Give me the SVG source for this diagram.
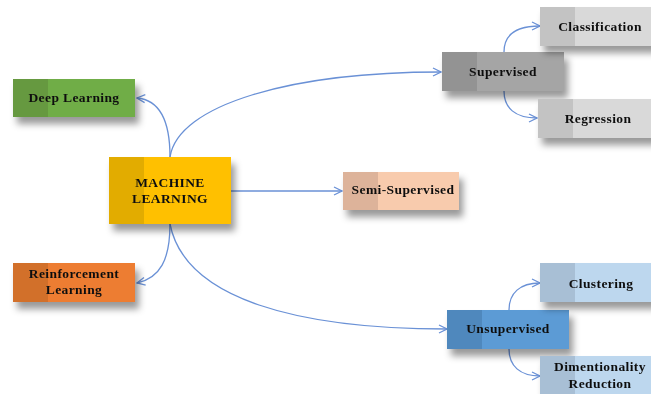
<svg xmlns="http://www.w3.org/2000/svg" width="651" height="394" viewBox="0 0 651 394">
<defs>
<filter id="sh" x="-20%" y="-30%" width="150%" height="180%">
<feDropShadow dx="4" dy="7" stdDeviation="3.5" flood-color="#000" flood-opacity="0.4"/>
</filter>
<marker id="ah" viewBox="0 0 10 10" refX="9" refY="5" markerWidth="10" markerHeight="10" markerUnits="userSpaceOnUse" orient="auto">
<path d="M1,1 L9,5 L1,9" fill="none" stroke="#6A91D6" stroke-width="1.3"/>
</marker>
<style>
.t{font-family:"Liberation Serif","Times New Roman",serif;font-weight:bold;font-size:13.5px;letter-spacing:0.4px;fill:#111;text-anchor:middle}
.c{fill:none;stroke:#6A91D6;stroke-width:1.3;marker-end:url(#ah)}
</style>
</defs>
<g id="connectors">
<path class="c" d="M170,157 C170,120 160,100 137,98"/>
<path class="c" d="M170,157 C178,105 290,72 441,72"/>
<path class="c" d="M231,191 L342,191"/>
<path class="c" d="M170,224 C170,260 160,278 137,283"/>
<path class="c" d="M170,224 C185,300 300,329 447,329"/>
<path class="c" d="M504,52 C504,35 515,26 540,26"/>
<path class="c" d="M504,91 C504,108 515,118 537,118"/>
<path class="c" d="M509,310 C509,293 520,283 540,283"/>
<path class="c" d="M509,349 C509,366 520,376 540,376"/>
</g>
<g id="deep-learning" filter="url(#sh)">
<rect x="13" y="79" width="122" height="38" fill="#70AD47"/>
<rect x="13" y="79" width="35" height="38" fill="#66993F"/>
<text class="t" x="74" y="102">Deep Learning</text>
</g>
<g id="machine-learning" filter="url(#sh)">
<rect x="109" y="157" width="122" height="67" fill="#FFC000"/>
<rect x="109" y="157" width="35" height="67" fill="#E2AC00"/>
<text class="t" x="170" y="187">MACHINE</text>
<text class="t" x="170" y="203">LEARNING</text>
</g>
<g id="reinforcement-learning" filter="url(#sh)">
<rect x="13" y="263" width="122" height="39" fill="#ED7D31"/>
<rect x="13" y="263" width="35" height="39" fill="#D2702C"/>
<text class="t" x="74" y="278">Reinforcement</text>
<text class="t" x="74" y="294">Learning</text>
</g>
<g id="semi-supervised" filter="url(#sh)">
<rect x="343" y="172" width="116" height="38" fill="#F8CBAD"/>
<rect x="343" y="172" width="35" height="38" fill="#DDB39A"/>
<text class="t" x="403" y="194">Semi-Supervised</text>
</g>
<g id="supervised" filter="url(#sh)">
<rect x="442" y="52" width="122" height="39" fill="#A5A5A5"/>
<rect x="442" y="52" width="35" height="39" fill="#939393"/>
<text class="t" x="503" y="76">Supervised</text>
</g>
<g id="classification" filter="url(#sh)">
<rect x="540" y="7" width="120" height="39" fill="#D9D9D9"/>
<rect x="540" y="7" width="35" height="39" fill="#C3C3C3"/>
<text class="t" x="600" y="31">Classification</text>
</g>
<g id="regression" filter="url(#sh)">
<rect x="538" y="99" width="122" height="39" fill="#D9D9D9"/>
<rect x="538" y="99" width="35" height="39" fill="#C3C3C3"/>
<text class="t" x="598" y="123">Regression</text>
</g>
<g id="unsupervised" filter="url(#sh)">
<rect x="447" y="310" width="122" height="39" fill="#5B9BD5"/>
<rect x="447" y="310" width="35" height="39" fill="#5088BD"/>
<text class="t" x="508" y="333">Unsupervised</text>
</g>
<g id="clustering" filter="url(#sh)">
<rect x="540" y="263" width="120" height="39" fill="#BDD7EE"/>
<rect x="540" y="263" width="35" height="39" fill="#A8BFD5"/>
<text class="t" x="601" y="288">Clustering</text>
</g>
<g id="dimensionality-reduction" filter="url(#sh)">
<rect x="540" y="356" width="120" height="44" fill="#BDD7EE"/>
<rect x="540" y="356" width="35" height="44" fill="#A8BFD5"/>
<text class="t" x="600" y="371">Dimentionality</text>
<text class="t" x="600" y="388">Reduction</text>
</g>
</svg>
